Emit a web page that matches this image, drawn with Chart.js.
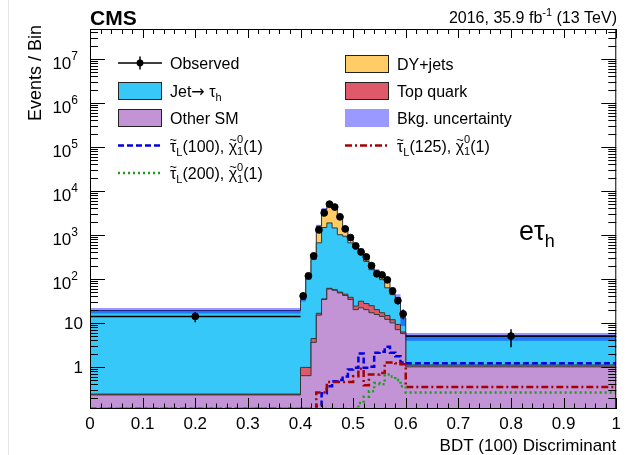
<!DOCTYPE html>
<html>
<head>
<meta charset="utf-8">
<script src="https://cdn.jsdelivr.net/npm/chart.js@4.4.0/dist/chart.umd.min.js"></script>
<style>
  html, body { margin: 0; padding: 0; background: #fff; }
  #wrap { width: 626px; height: 455px; }
</style>
</head>
<body>
<div id="wrap"><canvas id="chart" width="626" height="455"></canvas></div>
<script>
// bin edges of the BDT discriminant histogram
const binEdges = [0, 0.40, 0.41, 0.42, 0.43, 0.44, 0.45, 0.46, 0.47, 0.48, 0.49, 0.50,
  0.51, 0.52, 0.53, 0.54, 0.55, 0.56, 0.57, 0.58, 0.59, 0.60, 1.0];

// stacked backgrounds (events per bin)
const otherSM  = [0.23, 0.63, 0.63, 3.6, 15, 34, 59, 55, 48, 42, 34, 20, 22, 20, 17, 15.5, 14, 12, 10, 7, 5.7, 1.0];
const topQuark = [0.01, 0.34, 0.34, 0.8, 1.5, 1, 2, 2, 2, 3, 4, 4, 9, 7.5, 7.6, 4.5, 3, 2.7, 1.8, 2.2, 0.5, 0.1];
const jetTau   = [18.8, 33, 99, 271, 644, 1435, 1809, 1383, 960, 885, 622, 481, 326, 222, 137, 105, 79, 48, 32, 28, 6.8, 3.8];
const dyJets   = [0, 1, 5, 80, 920, 2330, 3030, 3060, 1630, 460, 195, 95, 93, 75, 48, 25, 27, 32, 12, 0, 0, 0];
const bkgRelUnc = [0.14, 0.12, 0.1, 0.08, 0.08, 0.07, 0.07, 0.07, 0.07, 0.08, 0.08, 0.1, 0.1, 0.1, 0.1, 0.12, 0.12, 0.13, 0.15, 0.2, 0.35, 0.2];

// data
const observed = [14, 41, 117, 333, 1300, 3160, 5000, 4300, 2570, 1370, 870, 560, 410, 316, 200, 130, 123, 95, 53, 32, 16, 5];
const obsErr   = [3.7, 6.4, 10.8, 18, 36, 56, 71, 66, 51, 37, 29.5, 23.7, 20, 17.8, 14, 11.4, 11, 9.7, 7.3, 5.7, 4, 2.2];

// signals (0.11 = sits on the bottom of the frame)
const stau100 = [0.11, 0.11, 0.11, 0.11, 0.13, 0.25, 0.36, 0.47, 0.5, 0.6, 0.87, 0.95, 2.0, 0.95, 1.0, 2.1, 2.2, 2.85, 2.1, 1.75, 1.25, 1.2];
const stau200 = [0.11, 0.11, 0.11, 0.11, 0.11, 0.11, 0.11, 0.11, 0.11, 0.11, 0.11, 0.11, 0.15, 0.21, 0.28, 0.43, 0.4, 0.67, 0.6, 0.5, 0.36, 0.26];
const stau125 = [0.11, 0.11, 0.11, 0.11, 0.26, 0.26, 0.45, 0.45, 0.45, 0.45, 0.45, 0.61, 0.9, 0.38, 0.67, 0.67, 0.72, 1.25, 1.25, 1.2, 1.15, 0.35];

const xTickLabels = ['0', '0.1', '0.2', '0.3', '0.4', '0.5', '0.6', '0.7', '0.8', '0.9', '1'];
const yTickValues = [1, 10, 100, 1e3, 1e4, 1e5, 1e6, 1e7];
const yTickLabels = ['1', '10', '10^2', '10^3', '10^4', '10^5', '10^6', '10^7'];

const FONT = '"Liberation Sans", Arial, Helvetica, sans-serif';
const C_JET = '#36c8f8', C_OTH = '#c394d5', C_TOP = '#de5a6a', C_DY = '#ffcc66', C_BAND = '#9999ff';
const C_S100 = '#0000e0', C_S200 = '#1c9e1c', C_S125 = '#a80000';

function steps(vals) {
  const pts = vals.map((v, i) => ({x: binEdges[i], y: v}));
  pts.push({x: binEdges[vals.length], y: vals[vals.length - 1]});
  return pts;
}

const bkgTotal = otherSM.map((v, i) => v + topQuark[i] + jetTau[i] + dyJets[i]);
const bandUp = bkgTotal.map((v, i) => v * (1 + bkgRelUnc[i]));
const bandLo = bkgTotal.map((v, i) => v * (1 - bkgRelUnc[i]));
const binCenters = observed.map((_, i) => (binEdges[i] + binEdges[i + 1]) / 2);

function hist(label, vals, color, fill, order) {
  return {label, data: steps(vals), stepped: true, fill, backgroundColor: color,
    borderColor: '#333', borderWidth: 1, pointRadius: 0, order};
}
function sig(label, vals, color, dash, stack) {
  return {label, data: steps(vals), stepped: true, fill: false, borderColor: color,
    borderWidth: 2.5, borderDash: dash, pointRadius: 0, stack, order: 2};
}

// ---- rich text helpers (sub/superscripts, tilde) ----
function fnt(s, bold, fam) { return (bold ? 'bold ' : '') + s + 'px ' + (fam || FONT); }
function partWidth(ctx, p) {
  if (p.sup !== undefined) {
    ctx.font = fnt(p.s);
    return Math.max(ctx.measureText(p.sup).width, ctx.measureText(p.sub).width);
  }
  ctx.font = fnt(p.s, p.bold, p.fam);
  return ctx.measureText(p.t).width;
}
function drawPart(ctx, p, x, y) {
  if (p.sup !== undefined) {
    ctx.font = fnt(p.s);
    ctx.fillText(p.sup, x, y - p.s * 0.75);
    ctx.fillText(p.sub, x, y + p.s * 0.35);
    return;
  }
  ctx.font = fnt(p.s, p.bold, p.fam);
  ctx.fillText(p.t, x, y + (p.dy || 0));
  if (p.tilde) {
    const w = ctx.measureText(p.t).width;
    ctx.font = fnt(p.s * 0.8);
    const tw = ctx.measureText('~').width;
    ctx.fillText('~', x + (w - tw) / 2, y - p.s * 0.47);
  }
}
function rich(ctx, parts, x, y, align) {
  const w = parts.map(p => partWidth(ctx, p));
  let cx = align === 'right' ? x - w.reduce((a, b) => a + b, 0) : x;
  parts.forEach((p, i) => { drawPart(ctx, p, cx, y); cx += w[i]; });
}
function stauLabel(mass) {
  return [{t: 'τ', s: 16, tilde: true}, {t: 'L', s: 11, dy: 4}, {t: '(' + mass + '), ', s: 16},
          {t: 'χ', s: 16, tilde: true}, {sup: '0', sub: '1', s: 11}, {t: '(1)', s: 16}];
}

const decor = {
  id: 'decor',
  afterDatasetsDraw(chart) {
    const {ctx, chartArea: a, scales: {x, y}} = chart;
    ctx.save();
    ctx.beginPath(); ctx.rect(a.left, a.top, a.right - a.left, a.bottom - a.top); ctx.clip();
    ctx.strokeStyle = '#000'; ctx.lineWidth = 1.5;
    observed.forEach((v, i) => {
      const x0 = x.getPixelForValue(binEdges[i]), x1 = x.getPixelForValue(binEdges[i + 1]);
      const xc = x.getPixelForValue(binCenters[i]), py = y.getPixelForValue(v);
      ctx.beginPath();
      ctx.moveTo(x0, py); ctx.lineTo(x1, py);
      ctx.moveTo(xc, y.getPixelForValue(v + obsErr[i])); ctx.lineTo(xc, y.getPixelForValue(v - obsErr[i]));
      ctx.stroke();
    });
    ctx.restore();

    // frame and ticks
    ctx.save();
    ctx.strokeStyle = '#000'; ctx.lineWidth = 1;
    ctx.strokeRect(a.left + 0.5, a.top + 0.5, a.right - a.left - 1, a.bottom - a.top - 1);
    ctx.beginPath();
    for (let k = 0; k <= 50; k++) {
      const px = Math.round(x.getPixelForValue(k * 0.02)) + 0.5;
      const major = k % 5 === 0;
      ctx.moveTo(px, a.bottom); ctx.lineTo(px, a.bottom - (major ? 11 : 5.5));
      ctx.moveTo(px, a.top); ctx.lineTo(px, a.top + (major ? 9 : 5));
    }
    for (let e = -1; e <= 7; e++) {
      for (let m = 1; m <= 9; m++) {
        const v = m * Math.pow(10, e);
        if (v < y.min || v > y.max) continue;
        const py = Math.round(y.getPixelForValue(v)) + 0.5;
        const len = m === 1 ? 15 : 8;
        ctx.moveTo(a.left, py); ctx.lineTo(a.left + len, py);
        ctx.moveTo(a.right, py); ctx.lineTo(a.right - len, py);
      }
    }
    ctx.stroke();
    ctx.restore();
  },
  afterDraw(chart) {
    const {ctx, chartArea: a, scales: {y}} = chart;
    ctx.save();
    ctx.fillStyle = '#000';
    ctx.textBaseline = 'alphabetic';

    // faint page border
    ctx.strokeStyle = '#e4e4e4'; ctx.lineWidth = 1;
    ctx.beginPath(); ctx.moveTo(8.5, 0); ctx.lineTo(8.5, 455); ctx.stroke();

    // y tick labels
    yTickLabels.forEach((lab, i) => {
      const py = y.getPixelForValue(yTickValues[i]);
      const parts = lab.split('^');
      if (parts.length === 1) {
        rich(ctx, [{t: lab, s: 17}], 83, py + 6, 'right');
      } else {
        rich(ctx, [{t: parts[0], s: 17}, {t: parts[1], s: 12, dy: -9}], 78, py + 10, 'right');
      }
    });

    // axis titles
    ctx.font = fnt(17);
    ctx.textAlign = 'right';
    ctx.fillText('BDT (100) Discriminant', a.right, 451);
    ctx.save();
    ctx.translate(41, 25); ctx.rotate(-Math.PI / 2);
    ctx.font = fnt(18);
    ctx.fillText('Events / Bin', 0, 0);
    ctx.restore();
    ctx.textAlign = 'left';

    // header
    rich(ctx, [{t: 'CMS', s: 21, bold: true}], 90, 25);
    rich(ctx, [{t: '2016, 35.9 fb', s: 16}, {t: '-1', s: 11, dy: -7}, {t: ' (13 TeV)', s: 16}], 617, 23, 'right');

    // channel label
    rich(ctx, [{t: 'eτ', s: 27}, {t: 'h', s: 18, dy: 7}], 519, 240);

    // legend
    const rowL = [63, 91, 118, 145.5, 173], rowR = [64, 91, 118, 145.5];
    function box(x0, yc, color, border) {
      ctx.fillStyle = color; ctx.fillRect(x0, yc - 9, 44, 18);
      if (border) { ctx.strokeStyle = '#222'; ctx.lineWidth = 1; ctx.strokeRect(x0 + 0.5, yc - 8.5, 43, 17); }
      ctx.fillStyle = '#000';
    }
    function line(x0, yc, color, dash) {
      ctx.save(); ctx.strokeStyle = color; ctx.lineWidth = 2.5; ctx.setLineDash(dash);
      ctx.beginPath(); ctx.moveTo(x0, yc); ctx.lineTo(x0 + 44, yc); ctx.stroke(); ctx.restore();
    }
    // observed marker
    ctx.strokeStyle = '#000'; ctx.lineWidth = 1.5;
    ctx.beginPath(); ctx.moveTo(118, rowL[0]); ctx.lineTo(162, rowL[0]);
    ctx.moveTo(140, rowL[0] - 6.5); ctx.lineTo(140, rowL[0] + 6.5); ctx.stroke();
    ctx.beginPath(); ctx.arc(140, rowL[0], 3.4, 0, Math.PI * 2); ctx.fill();
    rich(ctx, [{t: 'Observed', s: 16}], 170, rowL[0] + 6);
    box(118, rowL[1], C_JET, true);
    rich(ctx, [{t: 'Jet', s: 16}, {t: '→', s: 16, fam: '"DejaVu Sans", sans-serif'}, {t: ' τ', s: 16}, {t: 'h', s: 11, dy: 4}], 170, rowL[1] + 6);
    box(118, rowL[2], C_OTH, true);
    rich(ctx, [{t: 'Other SM', s: 16}], 170, rowL[2] + 6);
    line(118, rowL[3], C_S100, [6, 3]);
    rich(ctx, stauLabel(100), 170, rowL[3] + 6);
    line(118, rowL[4], C_S200, [2, 3]);
    rich(ctx, stauLabel(200), 170, rowL[4] + 6);

    box(345, rowR[0], C_DY, true);
    rich(ctx, [{t: 'DY+jets', s: 16}], 397, rowR[0] + 6);
    box(345, rowR[1], C_TOP, true);
    rich(ctx, [{t: 'Top quark', s: 16}], 397, rowR[1] + 6);
    box(345, rowR[2], C_BAND, false);
    rich(ctx, [{t: 'Bkg. uncertainty', s: 16}], 397, rowR[2] + 6);
    line(345, rowR[3], C_S125, [7, 3, 2, 3]);
    rich(ctx, stauLabel(125), 397, rowR[3] + 6);
    ctx.restore();
  }
};

new Chart(document.getElementById('chart').getContext('2d'), {
  type: 'line',
  data: {
    datasets: [
      hist('Other SM', otherSM, C_OTH, 'start', 11),
      hist('Top quark', topQuark, C_TOP, '-1', 12),
      hist('Jet→τh', jetTau, C_JET, '-1', 13),
      hist('DY+jets', dyJets, C_DY, '-1', 14),
      {label: 'Bkg. uncertainty', data: steps(bandUp), stepped: true, fill: '+1',
        backgroundColor: 'rgba(0,0,255,0.4)', borderWidth: 0, pointRadius: 0, stack: 'bandUp', order: 6},
      {label: 'band low', data: steps(bandLo), stepped: true, fill: false,
        borderWidth: 0, pointRadius: 0, stack: 'bandLo', order: 5},
      sig('stau200', stau200, C_S200, [2, 3], 's200'),
      sig('stau125', stau125, C_S125, [7, 3, 2, 3], 's125'),
      sig('stau100', stau100, C_S100, [6, 3], 's100'),
      {label: 'Observed', data: observed.map((v, i) => ({x: binCenters[i], y: v})), showLine: false,
        pointRadius: 3.4, pointBackgroundColor: '#000', pointBorderColor: '#000', stack: 'obs', order: 1}
    ]
  },
  options: {
    responsive: false,
    animation: false,
    devicePixelRatio: 1,
    layout: {padding: {top: 29, right: 9, left: 0, bottom: 0}},
    plugins: {legend: {display: false}, tooltip: {enabled: false}},
    events: [],
    scales: {
      x: {
        type: 'linear', min: 0, max: 1,
        grid: {display: false, drawTicks: false}, border: {display: false},
        ticks: {stepSize: 0.1, autoSkip: false, maxRotation: 0, padding: 5, color: '#000',
          font: {family: FONT, size: 17}, callback: (v, i) => xTickLabels[i]},
        afterFit(s) { s.height = 46; }
      },
      y: {
        type: 'logarithmic', min: 0.11, max: 4.8e7, stacked: true,
        grid: {display: false}, border: {display: false},
        ticks: {display: false},
        afterFit(s) { s.width = 90; }
      }
    }
  },
  plugins: [decor]
});
</script>
</body>
</html>
